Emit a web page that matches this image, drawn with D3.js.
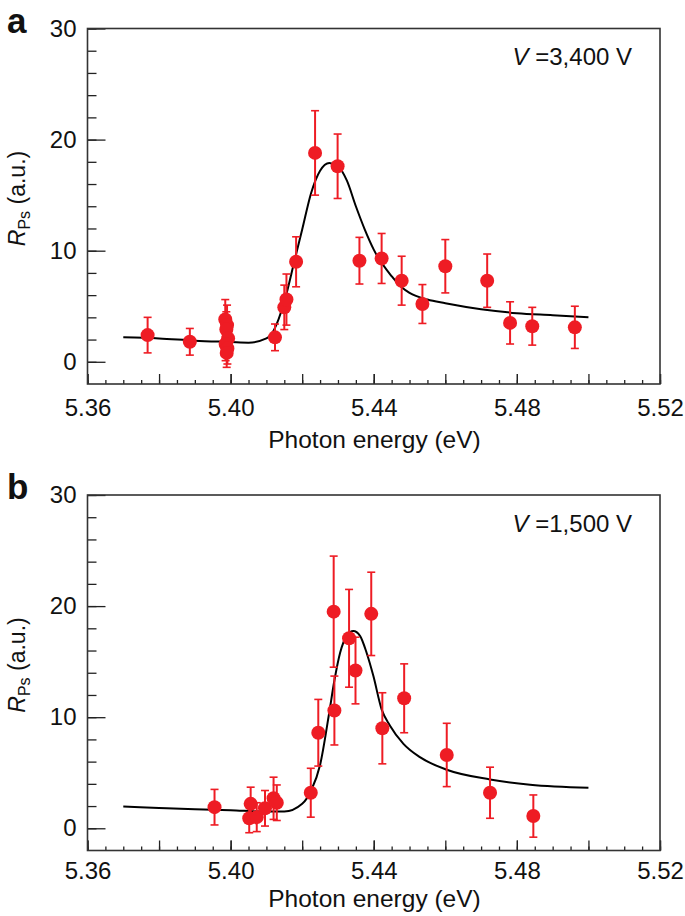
<!DOCTYPE html>
<html>
<head>
<meta charset="utf-8">
<script src="https://cdn.jsdelivr.net/npm/d3@7"></script>
<style>
  body { margin: 0; background: #fff; }
  svg text { font-family: "Liberation Sans", Arial, Helvetica, sans-serif; fill: #111; }
</style>
</head>
<body>
<div id="chart"></div>
<script>
// x tick labels / y tick labels
var xTickLabels = [5.36, 5.40, 5.44, 5.48, 5.52];
var yTickLabels = [0, 10, 20, 30];

// panel a : V = 3,400 V   [energy, R, error]
var energyA = [5.3768, 5.3886, 5.3985, 5.3990, 5.3988, 5.3993, 5.3986, 5.3991, 5.3989, 5.4124, 5.4150, 5.4156, 5.4183, 5.4236, 5.4299, 5.4360, 5.4422, 5.4478, 5.4536, 5.4600, 5.4717, 5.4781, 5.4843, 5.4962];
var valueA  = [2.4, 1.8, 3.8, 3.3, 2.9, 2.1, 1.6, 1.2, 0.8, 2.2, 4.9, 5.6, 9.0, 18.8, 17.6, 9.1, 9.3, 7.3, 5.2, 8.6, 7.3, 3.5, 3.2, 3.1];
var errorA  = [1.6, 1.2, 1.8, 1.8, 1.6, 1.5, 1.5, 1.4, 1.3, 1.2, 2.0, 2.3, 2.25, 3.8, 2.9, 2.1, 2.25, 2.2, 1.75, 2.4, 2.4, 1.9, 1.7, 1.9];

// fitted curve, panel a
var fitEnergyA = [5.370, 5.380, 5.390, 5.400, 5.405, 5.410, 5.412, 5.415, 5.418, 5.420, 5.4225, 5.425, 5.4276, 5.430, 5.4325, 5.435, 5.4375, 5.440, 5.445, 5.4478, 5.450, 5.455, 5.460, 5.470, 5.480, 5.490, 5.500];
var fitValueA  = [2.2, 2.1, 1.9, 1.78, 1.72, 2.1, 2.8, 5.4, 9.3, 11.9, 15.2, 17.2, 17.9, 17.6, 16.3, 14.0, 11.9, 10.1, 7.7, 6.7, 6.2, 5.6, 5.27, 4.73, 4.37, 4.19, 4.0];

// panel b : V = 1,500 V
var energyB = [5.3955, 5.4056, 5.4052, 5.4073, 5.4096, 5.4120, 5.4129, 5.4224, 5.4245, 5.4290, 5.4288, 5.4331, 5.4349, 5.4393, 5.4424, 5.4485, 5.4604, 5.4725, 5.4846];
var valueB  = [1.9, 2.2, 0.9, 1.0, 1.8, 2.7, 2.3, 3.2, 8.6, 10.6, 19.5, 17.1, 14.2, 19.3, 9.0, 11.7, 6.6, 3.2, 1.1];
var errorB  = [1.6, 1.5, 1.3, 1.3, 1.6, 1.9, 1.6, 2.2, 3.0, 3.1, 5.0, 4.4, 3.0, 3.75, 3.2, 3.1, 2.85, 2.3, 1.9];

// fitted curve, panel b
var fitEnergyB = [5.370, 5.380, 5.390, 5.400, 5.410, 5.415, 5.420, 5.4225, 5.425, 5.4275, 5.4290, 5.4306, 5.4324, 5.4343, 5.4362, 5.4380, 5.4399, 5.4422, 5.4445, 5.4483, 5.4529, 5.4604, 5.4725, 5.4837, 5.500];
var fitValueB  = [1.95, 1.83, 1.71, 1.62, 1.5, 1.5, 2.2, 3.4, 5.7, 10.3, 13.3, 15.8, 17.3, 17.75, 17.3, 15.8, 13.7, 10.7, 9.25, 7.6, 6.4, 5.27, 4.4, 3.92, 3.65];

var panels = [
  { letter: "a", volt: "=3,400 V", top: 28.5, tickPad: 15, titleY: 64, e: energyA, v: valueA, err: errorA, fe: fitEnergyA, fv: fitValueA },
  { letter: "b", volt: "=1,500 V", top: 495,  tickPad: 11, titleY: 56, e: energyB, v: valueB, err: errorB, fe: fitEnergyB, fv: fitValueB }
];

var W = 685, H = 916;
var left = 87.5, plotW = 572.5, plotH = 355.5;
var red = "#ee1c24";

var svg = d3.select("#chart").append("svg")
    .attr("width", W)
    .attr("height", H);

var x = d3.scaleLinear().domain([5.36, 5.52]).range([0, plotW]);
var y = d3.scaleLinear().domain([-2, 30]).range([plotH, 0]);

var drawPanel = function(p) {
    var g = svg.append("g")
        .attr("transform", "translate(" + left + "," + p.top + ")");

    // minor x ticks every 0.005
    var minorX = d3.range(0, 33).map(function(i) { return 5.36 + i * 0.005; });
    var midX = d3.range(0, 9).map(function(i) { return 5.36 + i * 0.02; });

    g.append("g")
        .attr("transform", "translate(0," + plotH + ")")
        .call(d3.axisBottom(x).tickValues(minorX).tickSize(-4).tickFormat(""))
        .call(function(s) { s.select(".domain").remove(); });
    g.append("g")
        .attr("transform", "translate(0," + plotH + ")")
        .call(d3.axisBottom(x).tickValues(midX).tickSize(-10).tickFormat(""))
        .call(function(s) { s.select(".domain").remove(); });
    g.append("g")
        .attr("class", "x_axis")
        .attr("transform", "translate(0," + plotH + ")")
        .call(d3.axisBottom(x).tickValues(xTickLabels).tickSize(-10).tickPadding(p.tickPad).tickFormat(d3.format(".2f")))
        .call(function(s) { s.select(".domain").remove(); })
        .selectAll("text")
        .style("font-size", "24px");

    // y ticks
    var minorY = d3.range(0, 16).map(function(i) { return i * 2; });
    g.append("g")
        .call(d3.axisLeft(y).tickValues(minorY).tickSize(-9).tickFormat(""))
        .call(function(s) { s.select(".domain").remove(); });
    g.append("g")
        .attr("class", "y_axis")
        .call(d3.axisLeft(y).tickValues(yTickLabels).tickSize(-18).tickPadding(11))
        .call(function(s) { s.select(".domain").remove(); })
        .selectAll("text")
        .style("font-size", "24px");

    g.selectAll(".tick line").attr("stroke", "#222").attr("stroke-width", 1.3);

    // frame
    g.append("rect")
        .attr("width", plotW)
        .attr("height", plotH)
        .attr("fill", "none")
        .attr("stroke", "#333")
        .attr("stroke-width", 1.6);

    // fitted line
    var fit = p.fe.map(function(d, i) { return [d, p.fv[i]]; });
    var line = d3.line()
        .x(function(d) { return x(d[0]); })
        .y(function(d) { return y(d[1]); })
        .curve(d3.curveMonotoneX);
    g.append("path")
        .datum(fit)
        .attr("d", line)
        .attr("fill", "none")
        .attr("stroke", "#000")
        .attr("stroke-width", 2);

    // data with error bars
    var pts = p.e.map(function(d, i) { return { e: d, v: p.v[i], err: p.err[i] }; });
    var eb = g.selectAll(".eb").data(pts).enter().append("g").attr("class", "eb");
    eb.append("line")
        .attr("x1", function(d) { return x(d.e); })
        .attr("x2", function(d) { return x(d.e); })
        .attr("y1", function(d) { return y(d.v + d.err); })
        .attr("y2", function(d) { return y(d.v - d.err); })
        .attr("stroke", red)
        .attr("stroke-width", 2);
    [1, -1].forEach(function(s) {
        eb.append("line")
            .attr("x1", function(d) { return x(d.e) - 4; })
            .attr("x2", function(d) { return x(d.e) + 4; })
            .attr("y1", function(d) { return y(d.v + s * d.err); })
            .attr("y2", function(d) { return y(d.v + s * d.err); })
            .attr("stroke", red)
            .attr("stroke-width", 1.6);
    });
    g.selectAll(".pt").data(pts).enter().append("circle")
        .attr("class", "pt")
        .attr("cx", function(d) { return x(d.e); })
        .attr("cy", function(d) { return y(d.v); })
        .attr("r", 7)
        .attr("fill", red);

    // panel letter
    svg.append("text")
        .attr("x", 7)
        .attr("y", p.top + 4)
        .style("font-size", "35px")
        .style("font-weight", "bold")
        .text(p.letter);

    // voltage label
    var vt = g.append("text")
        .attr("x", 544.5)
        .attr("y", 36.5)
        .attr("text-anchor", "end")
        .style("font-size", "24px");
    vt.append("tspan").style("font-style", "italic").text("V");
    vt.append("tspan").text(" " + p.volt);

    // x axis title
    g.append("text")
        .attr("x", 287)
        .attr("y", plotH + p.titleY)
        .attr("text-anchor", "middle")
        .style("font-size", "24.5px")
        .text("Photon energy (eV)");

    // y axis title
    var yt = svg.append("text")
        .attr("transform", "translate(25," + (p.top + 170) + ")rotate(-90)")
        .attr("text-anchor", "middle")
        .style("font-size", "23px");
    yt.append("tspan").style("font-style", "italic").text("R");
    yt.append("tspan").attr("dy", 5).style("font-size", "16px").text("Ps");
    yt.append("tspan").attr("dy", -5).text(" (a.u.)");
}

panels.forEach(drawPanel);
</script>
</body>
</html>
